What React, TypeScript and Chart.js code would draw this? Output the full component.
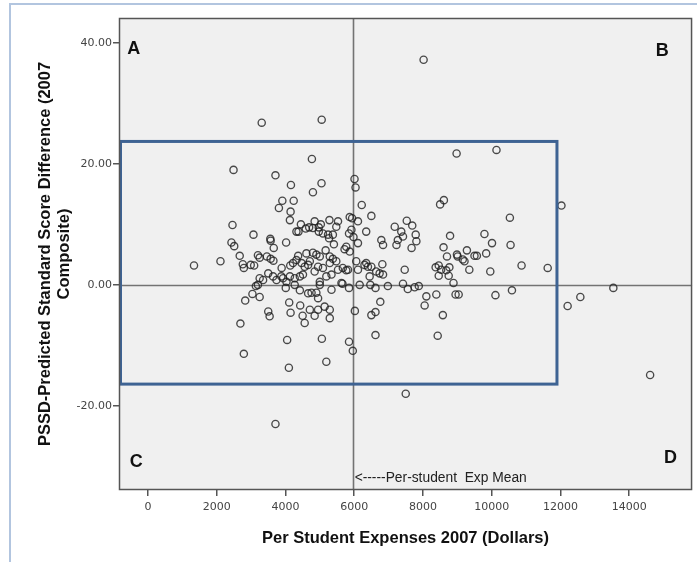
import React, { useEffect, useRef } from "react";
import { Chart, registerables } from "chart.js";

Chart.register(...registerables);

// Per student expenses (dollars)
const expenses = [
  8020, 3310, 5055, 8980, 10140, 12030, 2490, 3710, 4160, 4770, 5050, 4800, 6010, 6040, 6220, 6500,
  5870, 5940, 6110, 6350, 3910, 4240, 3810, 4150, 4130, 2460, 3070, 3560, 3570, 4020, 3660, 2430,
  2510, 4450, 4320, 4380, 4590, 4690, 4850, 4970, 5030, 5280, 5530, 5480, 4970, 5240, 5270, 5410,
  5090, 5380, 5920, 5850, 5980, 6110, 5770, 5720, 5870, 4800, 1340, 2110, 2670, 2760, 2790, 2990,
  3090, 3200, 3250, 3460, 3570, 3650, 3890, 4140, 4220, 4370, 4320, 4610, 4800, 4900, 5000, 5170,
  5290, 5380, 5480, 5290, 4470, 4710, 4560, 4660, 4950, 5090, 4850, 5190, 5340, 5530, 5670, 5770,
  4510, 3250, 3200, 3500, 3640, 3740, 3930, 4130, 4270, 4270, 4030, 3350, 3880, 4420, 6060, 6110,
  6300, 6400, 6500, 6820, 6840, 6640, 6450, 7180, 7370, 7270, 7230, 7420, 7530, 7690, 7790, 7810,
  7670, 6790, 6840, 7470, 5000, 5660, 5850, 6470, 6620, 6980, 7420, 7560, 7760, 7880, 4010, 4420,
  5820, 6350, 6740, 5000, 5630, 6160,
  3140, 3040, 3250, 2830, 2690, 3500, 3540, 4110, 4150, 4430, 4500, 4560, 4660, 4050, 2790, 4100,
  3710, 4760, 4900, 4950, 5340, 4710, 4850, 4950, 5140, 5290, 5290, 5060, 5190, 5850, 5960, 6020,
  8100, 8050, 8390, 8580, 8430, 6760, 6620, 6500, 6620, 7500, 8950, 9040, 10110, 10590, 8890, 12210,
  12580, 13540, 14610,
  8500, 8610, 10530, 8790, 9790, 10010, 10550, 8600, 8700, 8990, 9010, 9280, 9160, 9210, 9500, 9570,
  9840, 10870, 11630, 9350, 9960, 8370, 8460, 8530, 8680, 8770, 8460, 8750,
];

// PSSD - predicted standard score difference (2007 composite)
const scoreDiff = [
  37.2, 26.8, 27.3, 21.7, 22.3, 13.1, 19.0, 18.1, 16.5, 20.8, 16.8, 15.3, 17.5, 16.1, 13.2, 11.4,
  11.2, 11.0, 10.5, 8.8, 13.9, 13.9, 12.7, 12.1, 10.7, 9.9, 8.3, 7.6, 7.3, 7.0, 6.1, 7.0,
  6.4, 10.0, 8.8, 8.8, 9.3, 9.5, 10.5, 9.5, 10.0, 10.7, 10.5, 9.6, 8.8, 8.3, 7.7, 6.7,
  8.5, 8.3, 9.1, 8.5, 7.9, 6.9, 6.3, 5.9, 5.5, 9.4, 3.2, 3.9, 4.8, 3.4, 2.8, 3.3,
  3.2, 4.9, 4.5, 4.7, 4.3, 4.0, 2.8, 3.2, 3.6, 4.8, 4.1, 5.2, 5.3, 5.0, 4.7, 5.7,
  4.7, 4.3, 3.9, 3.6, 3.6, 3.9, 3.0, 3.3, 3.0, 2.8, 2.2, 1.4, 1.7, 2.5, 2.8, 2.4,
  1.7, 1.1, 0.0, 1.9, 1.4, 0.8, 1.1, 1.4, 1.1, 0.0, 0.5, 0.8, 1.4, 1.4, 3.9, 2.5,
  3.3, 3.0, 3.0, 3.4, 1.7, 2.2, 1.4, 9.6, 8.8, 7.4, 6.6, 8.0, 10.6, 9.8, 8.3, 7.2,
  6.1, 7.4, 6.6, 2.5, 0.0, 0.2, -0.5, 0.0, -0.5, -0.2, 0.2, -0.7, -0.4, -0.2, -0.5, -0.9,
  2.5, 3.6, 1.9, 0.5, 0.3, 0.0,
  -0.2, -1.5, -2.0, -2.6, -6.4, -4.4, -5.2, -2.9, -4.6, -3.4, -5.1, -6.3, -1.4, -9.1, -11.4, -13.7,
  -23.0, -1.3, -1.3, -2.2, -0.8, -4.1, -5.1, -4.1, -3.6, -4.1, -5.5, -8.9, -12.7, -9.4, -10.9, -4.3,
  -1.9, -3.4, -1.6, -5.0, -8.4, -2.8, -4.5, -5.0, -8.3, -18.0, -1.6, -1.6, -1.7, -0.9, 0.3, -3.5,
  -2.0, -0.5, -14.9,
  13.3, 14.0, 11.1, 8.1, 8.4, 6.9, 6.6, 6.2, 4.7, 5.0, 4.7, 5.7, 4.2, 3.9, 4.8, 4.8,
  5.2, 3.2, 2.8, 2.5, 2.2, 2.9, 3.2, 2.5, 2.4, 2.9, 1.5, 1.5,
];

const xTickValues = [0, 2000, 4000, 6000, 8000, 10000, 12000, 14000];
const yTickValues = [-20, 0, 20, 40];
const xRange = [-842, 15830];
const yRange = [-33.9, 44.1];

const expMean = 5955;
const boxX = [-842, 11900];
const boxY = [-16.4, 23.7];

const quadrantNames = ["A", "B", "C", "D"];
const quadrantX = [-410, 14960, -340, 15200];
const quadrantY = [39.0, 38.6, -29.2, -28.6];

const meanLabel = "<-----Per-student  Exp Mean";
const meanLabelY = -32.0;

const xTitle = "Per Student Expenses 2007 (Dollars)";
const yTitle = ["PSSD-Predicted Standard Score Difference (2007", "Composite)"];

const overlayPlugin = {
  id: "overlay",
  beforeDraw(chart: any) {
    const { ctx, chartArea: a } = chart;
    ctx.save();
    ctx.fillStyle = "#f0f0f0";
    ctx.fillRect(a.left, a.top, a.right - a.left, a.bottom - a.top);
    ctx.restore();
  },
  beforeDatasetsDraw(chart: any) {
    const { ctx, chartArea: a } = chart;
    const xs = chart.scales.x;
    const ys = chart.scales.y;
    ctx.save();
    ctx.strokeStyle = "#737373";
    ctx.lineWidth = 1.6;
    const mx = Math.round(xs.getPixelForValue(expMean)) + 0.5;
    ctx.beginPath();
    ctx.moveTo(mx, a.top);
    ctx.lineTo(mx, a.bottom);
    ctx.stroke();
    const zy = Math.round(ys.getPixelForValue(0)) + 0.5;
    ctx.beginPath();
    ctx.moveTo(a.left, zy);
    ctx.lineTo(a.right, zy);
    ctx.stroke();
    ctx.restore();
  },
  afterDatasetsDraw(chart: any) {
    const { ctx, chartArea: a } = chart;
    const xs = chart.scales.x;
    const ys = chart.scales.y;
    ctx.save();
    // blue box
    ctx.strokeStyle = "#3e6393";
    ctx.lineWidth = 3;
    const bl = xs.getPixelForValue(boxX[0]) + 1.5;
    const br = xs.getPixelForValue(boxX[1]);
    const bt = ys.getPixelForValue(boxY[1]);
    const bb = ys.getPixelForValue(boxY[0]);
    ctx.strokeRect(bl, bt, br - bl, bb - bt);
    // frame
    ctx.strokeStyle = "#555555";
    ctx.lineWidth = 1.5;
    ctx.strokeRect(a.left + 0.5, a.top + 0.5, a.right - a.left - 1, a.bottom - a.top - 1);
    // quadrant letters
    ctx.fillStyle = "#111111";
    ctx.font = 'bold 18px "Liberation Sans", Arial, sans-serif';
    ctx.textAlign = "center";
    ctx.textBaseline = "middle";
    quadrantNames.forEach((n, i) => {
      ctx.fillText(n, xs.getPixelForValue(quadrantX[i]), ys.getPixelForValue(quadrantY[i]));
    });
    // mean label
    ctx.font = '13.8px "Liberation Sans", Arial, sans-serif';
    ctx.textAlign = "left";
    ctx.fillStyle = "#222222";
    ctx.fillText(meanLabel, xs.getPixelForValue(expMean) + 2, ys.getPixelForValue(meanLabelY));
    ctx.restore();
  },
};

export default function App() {
  const canvasRef = useRef<HTMLCanvasElement | null>(null);

  useEffect(() => {
    document.body.style.margin = "0";
    const canvas = canvasRef.current;
    if (!canvas) return;
    const points = expenses.map((x, i) => ({ x, y: scoreDiff[i] }));
    const chart = new Chart(canvas, {
      type: "scatter",
      data: {
        datasets: [
          {
            data: points,
            pointRadius: 3.6,
            pointBorderWidth: 1.35,
            pointBorderColor: "rgba(30,30,30,0.8)",
            pointBackgroundColor: "rgba(0,0,0,0)",
            pointHoverRadius: 3.6,
          },
        ],
      },
      options: {
        responsive: false,
        animation: false,
        events: [],
        layout: { padding: { top: 18, right: 4, left: 0, bottom: 0 } },
        plugins: {
          legend: { display: false },
          tooltip: { enabled: false },
        },
        scales: {
          x: {
            type: "linear",
            min: xRange[0],
            max: xRange[1],
            afterBuildTicks: (scale: any) => {
              scale.ticks = xTickValues.map((value) => ({ value }));
            },
            afterFit: (scale: any) => {
              scale.height = 72;
            },
            ticks: {
              callback: (v: any) => String(v),
              color: "#444444",
              font: { family: "DejaVu Sans", size: 11 },
              padding: 5,
              maxRotation: 0,
              autoSkip: false,
            },
            grid: {
              drawOnChartArea: false,
              drawTicks: true,
              tickLength: 6,
              color: "#555555",
              lineWidth: 1.5,
            },
            border: { display: false },
            title: {
              display: true,
              text: xTitle,
              color: "#111111",
              font: { family: "Liberation Sans", size: 16.5, weight: "bold", lineHeight: 1.2 },
              padding: { top: 0, bottom: 14 },
            },
          },
          y: {
            type: "linear",
            min: yRange[0],
            max: yRange[1],
            afterBuildTicks: (scale: any) => {
              scale.ticks = yTickValues.map((value) => ({ value }));
            },
            afterFit: (scale: any) => {
              scale.width = 119;
            },
            ticks: {
              callback: (v: any) => Number(v).toFixed(2),
              color: "#444444",
              font: { family: "DejaVu Sans", size: 11 },
              padding: 1,
              autoSkip: false,
            },
            grid: {
              drawOnChartArea: false,
              drawTicks: true,
              tickLength: 6,
              color: "#555555",
              lineWidth: 1.5,
            },
            border: { display: false },
            title: {
              display: true,
              text: yTitle,
              color: "#111111",
              font: { family: "Liberation Sans", size: 16.5, weight: "bold", lineHeight: 1.15 },
              padding: { top: 35.5, bottom: 0 },
            },
          },
        },
      },
      plugins: [overlayPlugin],
    } as any);
    return () => {
      chart.destroy();
    };
  }, []);

  return (
    <div style={{ position: "relative", width: 697, height: 562, background: "#ffffff" }}>
      <canvas ref={canvasRef} width={697} height={562} style={{ display: "block" }} />
      <div
        style={{
          position: "absolute",
          left: 9,
          top: 3,
          right: 0,
          bottom: 0,
          borderLeft: "2px solid #b2c5df",
          borderTop: "2px solid #b2c5df",
          pointerEvents: "none",
        }}
      />
    </div>
  );
}
